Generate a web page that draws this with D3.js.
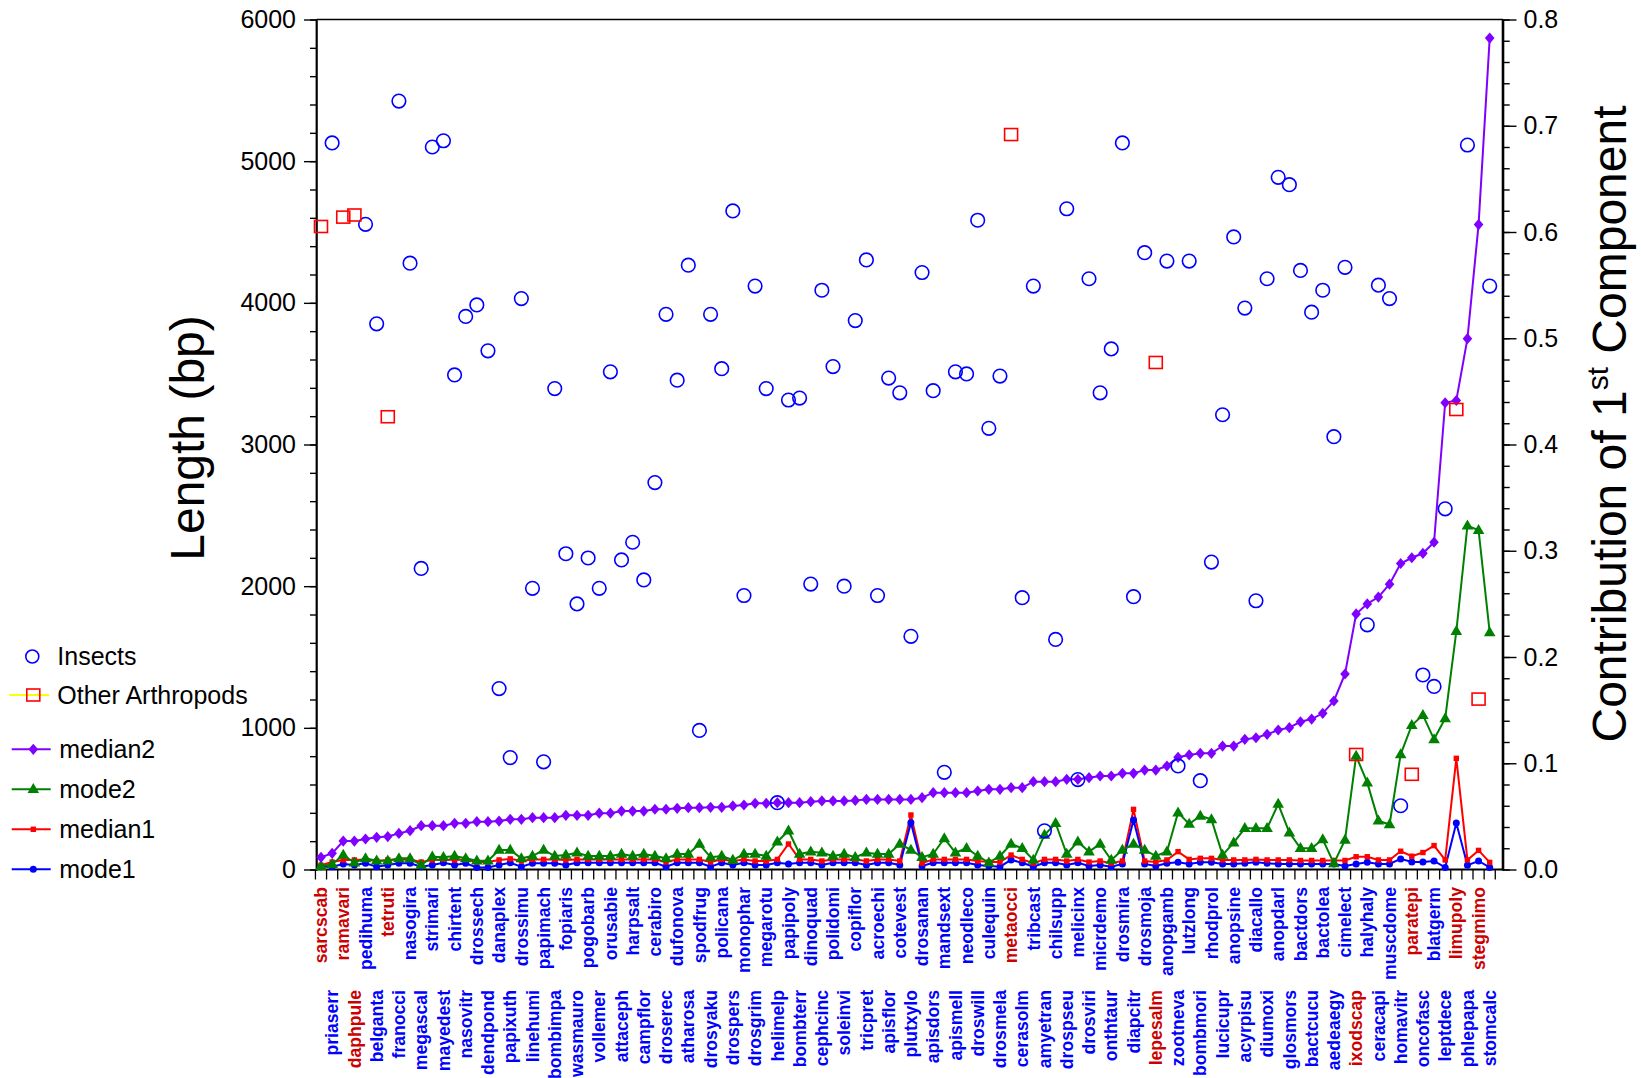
<!DOCTYPE html>
<html><head><meta charset="utf-8">
<script src="https://cdn.jsdelivr.net/npm/d3@7"></script>
<style>
body{margin:0;background:#fff}
svg{display:block}
text{font-family:"Liberation Sans",Arial,sans-serif}
</style>
</head><body>
<svg id="chart" width="1641" height="1078"></svg>
<script>
const categories = [
 "sarcscab","priaserr","ramavari","daphpule","pedihuma","belganta","tetruti","franocci","nasogira","megascal",
 "strimari","mayedest","chirtent","nasovitr","drossech","dendpond","danaplex","papixuth","drossimu","linehumi",
 "papimach","bombimpa","fopiaris","wasmauro","pogobarb","vollemer","orusabie","attaceph","harpsalt","campflor",
 "cerabiro","droserec","dufonova","atharosa","spodfrug","drosyaku","policana","drospers","monophar","drosgrim",
 "megarotu","helimelp","papipoly","bombterr","dinoquad","cephcinc","polidomi","soleinvi","copiflor","tricpret",
 "acroechi","apisflor","cotevest","plutxylo","drosanan","apisdors","mandsext","apismell","neodleco","droswill",
 "culequin","drosmela","metaocci","cerasolm","tribcast","amyetran","chilsupp","drospseu","melicinx","drosviri",
 "micrdemo","onthtaur","drosmira","diapcitr","drosmoja","lepesalm","anopgamb","zootneva","lutzlong","bombmori",
 "rhodprol","lucicupr","anopsine","acyrpisu","diacallo","diumoxi","anopdarl","glosmors","bactdors","bactcucu",
 "bactolea","aedeaegy","cimelect","ixodscap","halyhaly","ceracapi","muscdome","homavitr","paratepi","oncofasc",
 "blatgerm","leptdece","limupoly","phlepapa","stegmimo","stomcalc"];

const otherArthropods = ["sarcscab","ramavari","daphpule","tetruti","metaocci","lepesalm","ixodscap","paratepi","limupoly","stegmimo"];

const lengthBp = [
 4539,5129,4605,4620,4554,3852,3196,5424,4280,2125,
 5100,5144,3491,3904,3985,3661,1277,790,4030,1985,
 760,3395,2229,1875,2199,1985,3513,2185,2310,2044,
 2731,3919,3454,4266,982,3919,3535,4649,1934,4118,
 3395,472,3314,3328,2015,4089,3550,2000,3875,4303,
 1934,3469,3365,1646,4214,3380,686,3513,3498,4583,
 3114,3483,5188,1919,4118,273,1624,4664,635,4170,
 3365,3675,5129,1926,4354,3579,4295,731,4295,627,
 2170,3210,4465,3963,1897,4170,4886,4834,4229,3934,
 4089,3055,4251,812,1727,4125,4030,450,672,1373,
 1292,2546,3247,5114,1203,4118];

const median2 = [
 0.0115,0.0152,0.0268,0.0268,0.0287,0.0303,0.031,0.034,0.0365,0.0412,
 0.0412,0.0412,0.0435,0.0435,0.045,0.045,0.0456,0.0472,0.0472,0.0488,
 0.0488,0.0488,0.051,0.051,0.051,0.053,0.053,0.055,0.055,0.055,
 0.0567,0.0567,0.0576,0.0582,0.0582,0.0585,0.0585,0.0598,0.0607,0.0623,
 0.0623,0.0629,0.0629,0.0629,0.0638,0.0645,0.0645,0.0645,0.065,0.066,
 0.066,0.066,0.066,0.066,0.0676,0.0723,0.0723,0.0723,0.0723,0.0739,
 0.0755,0.0755,0.077,0.077,0.0827,0.0827,0.0827,0.0849,0.0849,0.0864,
 0.088,0.088,0.0905,0.0905,0.0936,0.0936,0.0974,0.1056,0.1078,0.1093,
 0.1093,0.1162,0.1162,0.1225,0.124,0.1272,0.1313,0.1335,0.139,0.1416,
 0.147,0.1586,0.184,0.2405,0.25,0.2564,0.2685,0.288,0.2934,0.2976,
 0.308,0.4393,0.4414,0.4996,0.607,0.7825];

const mode2 = [
 0.003,0.005,0.0136,0.0064,0.0105,0.0083,0.0083,0.0105,0.0105,0.0042,
 0.012,0.0115,0.0127,0.0105,0.0083,0.0083,0.0184,0.0184,0.0105,0.0127,
 0.0184,0.0127,0.0136,0.0158,0.0127,0.0127,0.0127,0.0146,0.0127,0.0146,
 0.0127,0.0105,0.0146,0.0146,0.024,0.0115,0.0127,0.0089,0.0146,0.0146,
 0.0127,0.0262,0.0365,0.0146,0.0168,0.0158,0.0127,0.0146,0.0115,0.0158,
 0.0146,0.0146,0.024,0.0184,0.0115,0.0146,0.0293,0.0158,0.02,0.0127,
 0.0064,0.0127,0.024,0.02,0.0089,0.0325,0.0435,0.0146,0.0262,0.0168,
 0.024,0.0089,0.0184,0.024,0.0184,0.0127,0.0168,0.0535,0.0428,0.0504,
 0.0472,0.0136,0.0253,0.0388,0.0388,0.0388,0.0616,0.0347,0.02,0.02,
 0.0284,0.0058,0.0278,0.1068,0.0817,0.046,0.0423,0.1084,0.1358,0.1453,
 0.1225,0.1421,0.2242,0.3236,0.3193,0.2231];

const median1 = [
 0.004,0.007,0.009,0.009,0.0095,0.008,0.009,0.0095,0.0095,0.007,
 0.009,0.0095,0.009,0.0095,0.007,0.007,0.009,0.01,0.008,0.0095,
 0.0095,0.0095,0.009,0.0095,0.0095,0.0095,0.0095,0.0095,0.0095,0.0095,
 0.0095,0.007,0.0095,0.0095,0.0095,0.007,0.0095,0.008,0.0095,0.008,
 0.008,0.0095,0.024,0.0095,0.0095,0.008,0.0095,0.0095,0.0095,0.008,
 0.0095,0.0095,0.008,0.0513,0.006,0.0095,0.0095,0.0095,0.0095,0.008,
 0.007,0.007,0.0136,0.0095,0.006,0.0095,0.0095,0.008,0.0095,0.007,
 0.008,0.006,0.008,0.0566,0.008,0.007,0.009,0.0168,0.0095,0.0105,
 0.0105,0.009,0.009,0.009,0.0095,0.009,0.009,0.009,0.0085,0.0085,
 0.0085,0.0085,0.0085,0.012,0.012,0.009,0.009,0.0172,0.0125,0.016,
 0.0225,0.009,0.1046,0.009,0.018,0.0067];

const mode1 = [
 0.0027,0.0027,0.0052,0.0042,0.0058,0.0027,0.0042,0.0058,0.0058,0.0027,
 0.0042,0.0064,0.0042,0.0058,0.002,0.002,0.0042,0.0064,0.0027,0.0058,
 0.0058,0.0058,0.0042,0.0064,0.0064,0.0064,0.0064,0.0064,0.0064,0.0064,
 0.0064,0.0027,0.0064,0.0064,0.0064,0.0027,0.0064,0.0042,0.0064,0.0042,
 0.0042,0.0064,0.0052,0.0064,0.0064,0.0042,0.0064,0.0064,0.0064,0.0042,
 0.0064,0.0064,0.0042,0.044,0.0033,0.0064,0.0064,0.0064,0.0064,0.0042,
 0.0033,0.0027,0.009,0.0064,0.0027,0.0064,0.0064,0.0042,0.0064,0.0033,
 0.0042,0.0027,0.0052,0.0466,0.0052,0.0033,0.0058,0.0068,0.0052,0.0068,
 0.0068,0.0052,0.0052,0.0058,0.0068,0.0058,0.0052,0.0052,0.0052,0.0052,
 0.0052,0.0052,0.0033,0.0052,0.0068,0.0052,0.0052,0.01,0.007,0.007,
 0.008,0.002,0.0437,0.004,0.008,0.002];

const leftMajorTicks = [0,1000,2000,3000,4000,5000,6000];
const rightMajorTicks = [0,0.1,0.2,0.3,0.4,0.5,0.6,0.7,0.8];

const legendItems = [
 {label:"Insects", kind:"circle"},
 {label:"Other Arthropods", kind:"square"},
 {label:"median2", kind:"median2"},
 {label:"mode2", kind:"mode2"},
 {label:"median1", kind:"median1"},
 {label:"mode1", kind:"mode1"}
];

// ---------- drawing ----------
const svg = d3.select("#chart");
const P = {left:316.7, right:1503, top:19.5, bottom:869.5};
const COL = {blue:"#0000ff", red:"#ff0000", purple:"#8000ff", green:"#008000", yellow:"#ffff00", labelRed:"#cc0000"};

const x = d3.scalePoint().domain(categories).range([321, 1489.7]);
const yL = d3.scaleLinear().domain([0,6000]).range([P.bottom, P.top]);
const yR = d3.scaleLinear().domain([0,0.8]).range([P.bottom, P.top]);
const step = x.step();

// Left axis minor + major
const gL = svg.append("g").attr("transform",`translate(${P.left},0)`);
gL.call(d3.axisLeft(yL).tickValues(d3.range(0,6001,200)).tickSize(6.7).tickFormat(""));
gL.append("g").call(d3.axisLeft(yL).tickValues(leftMajorTicks).tickSize(12.7).tickPadding(8).tickFormat(d3.format("d")));
gL.selectAll(".domain").remove();
gL.selectAll("line").attr("stroke","#000").attr("stroke-width",1.4);
gL.selectAll("text").attr("font-size",25).attr("fill","#000").attr("font-family",'"Liberation Sans",Arial,sans-serif');

// Right axis
const gR = svg.append("g").attr("transform",`translate(${P.right},0)`);
gR.call(d3.axisRight(yR).tickValues(d3.range(0,0.8001,0.02)).tickSize(6.7).tickFormat(""));
gR.append("g").call(d3.axisRight(yR).tickValues(rightMajorTicks).tickSize(13.5).tickPadding(7).tickFormat(d3.format(".1f")));
gR.selectAll(".domain").remove();
gR.selectAll("line").attr("stroke","#000").attr("stroke-width",1.4);
gR.selectAll("text").attr("font-size",25).attr("fill","#000").attr("font-family",'"Liberation Sans",Arial,sans-serif');

// Bottom ticks at category boundaries
const bounds = categories.map(c => x(c) - step/2).concat([x(categories[categories.length-1]) + step/2]);
svg.append("g").selectAll("line").data(bounds).join("line")
  .attr("x1",d=>d).attr("x2",d=>d).attr("y1",P.bottom).attr("y2",P.bottom+10)
  .attr("stroke","#000").attr("stroke-width",1.3);

// Frame
svg.append("line").attr("x1",P.left).attr("x2",P.right).attr("y1",P.top).attr("y2",P.top).attr("stroke","#000").attr("stroke-width",1.5);
svg.append("line").attr("x1",P.left).attr("x2",P.right+1).attr("y1",P.bottom).attr("y2",P.bottom).attr("stroke","#000").attr("stroke-width",2.2);
svg.append("line").attr("x1",P.left).attr("x2",P.left).attr("y1",P.top).attr("y2",P.bottom+1).attr("stroke","#000").attr("stroke-width",2.2);
svg.append("line").attr("x1",P.right).attr("x2",P.right).attr("y1",P.top).attr("y2",P.bottom+1).attr("stroke","#000").attr("stroke-width",2.6);

// Category labels
const isOther = c => otherArthropods.includes(c);
svg.append("g").selectAll("text").data(categories).join("text")
  .attr("transform",(c,i)=>`translate(${x(c)},${i%2===0 ? 887 : 990}) rotate(-90)`)
  .attr("text-anchor","end").attr("dy","0.35em")
  .attr("font-size",17.6).attr("font-weight","bold")
  .attr("fill",c=>isOther(c)?COL.labelRed:COL.blue)
  .text(c=>c);

// Lines
const lineR = d3.line().x((d,i)=>x(categories[i])).y(d=>yR(d));
const triPath = "M0,-6.2L5.8,3.8L-5.8,3.8Z";
const diaPath = "M0,-5.6L4.8,0L0,5.6L-4.8,0Z";

const gLines = svg.append("g");
gLines.append("path").datum(median1).attr("d",lineR).attr("fill","none").attr("stroke",COL.red).attr("stroke-width",2);
gLines.append("path").datum(mode1).attr("d",lineR).attr("fill","none").attr("stroke",COL.blue).attr("stroke-width",2);
gLines.append("g").selectAll("circle").data(mode1).join("circle")
  .attr("cx",(d,i)=>x(categories[i])).attr("cy",d=>yR(d)).attr("r",3.5).attr("fill",COL.blue);
gLines.append("g").selectAll("rect").data(median1).join("rect")
  .attr("x",(d,i)=>x(categories[i])-2.7).attr("y",d=>yR(d)-2.7).attr("width",5.4).attr("height",5.4).attr("fill",COL.red);
gLines.append("path").datum(mode2).attr("d",lineR).attr("fill","none").attr("stroke",COL.green).attr("stroke-width",2);
gLines.append("g").selectAll("path").data(mode2).join("path")
  .attr("transform",(d,i)=>`translate(${x(categories[i])},${yR(d)})`).attr("d",triPath).attr("fill",COL.green);
gLines.append("path").datum(median2).attr("d",lineR).attr("fill","none").attr("stroke",COL.purple).attr("stroke-width",2);
gLines.append("g").selectAll("path").data(median2).join("path")
  .attr("transform",(d,i)=>`translate(${x(categories[i])},${yR(d)})`).attr("d",diaPath).attr("fill",COL.purple);

// Length scatter
const pts = categories.map((c,i)=>({c, v:lengthBp[i]}));
const gPts = svg.append("g");
gPts.selectAll("circle").data(pts.filter(p=>!isOther(p.c))).join("circle")
  .attr("cx",p=>x(p.c)).attr("cy",p=>yL(p.v)).attr("r",6.8)
  .attr("fill","none").attr("stroke",COL.blue).attr("stroke-width",1.6);
gPts.selectAll("rect").data(pts.filter(p=>isOther(p.c))).join("rect")
  .attr("x",p=>x(p.c)-6.5).attr("y",p=>yL(p.v)-6).attr("width",13).attr("height",12)
  .attr("fill","none").attr("stroke",COL.red).attr("stroke-width",1.6);

// Axis titles
svg.append("text").attr("transform","translate(187,438) rotate(-90)")
  .attr("text-anchor","middle").attr("dy","0.35em").attr("font-size",48).attr("fill","#000")
  .text("Length (bp)");
const rt = svg.append("text").attr("transform","translate(1609,424) rotate(-90)")
  .attr("text-anchor","middle").attr("dy","0.35em").attr("font-size",48).attr("fill","#000");
rt.append("tspan").text("Contribution of 1");
rt.append("tspan").attr("font-size",30).attr("dy",-18).text("st");
rt.append("tspan").attr("dy",18).text(" Component");

// Legend
const legY = [656.5, 695, 749.3, 789.3, 829.3, 869.3];
const gLeg = svg.append("g");
legendItems.forEach((it,k)=>{
  const y = legY[k];
  const g = gLeg.append("g").attr("transform",`translate(0,${y})`);
  if(it.kind==="circle"){
    g.append("circle").attr("cx",32.3).attr("cy",0).attr("r",6.5).attr("fill","none").attr("stroke",COL.blue).attr("stroke-width",1.6);
  } else if(it.kind==="square"){
    g.append("line").attr("x1",9.3).attr("x2",49.3).attr("y1",0).attr("y2",0).attr("stroke",COL.yellow).attr("stroke-width",2);
    g.append("rect").attr("x",33.3-6.5).attr("y",-6).attr("width",13).attr("height",12).attr("fill","none").attr("stroke",COL.red).attr("stroke-width",1.6);
  } else {
    const col = {median2:COL.purple, mode2:COL.green, median1:COL.red, mode1:COL.blue}[it.kind];
    g.append("line").attr("x1",11.7).attr("x2",50.7).attr("y1",0).attr("y2",0).attr("stroke",col).attr("stroke-width",2);
    if(it.kind==="median2") g.append("path").attr("transform","translate(33.3,0)").attr("d",diaPath).attr("fill",col);
    if(it.kind==="mode2") g.append("path").attr("transform","translate(33.3,0)").attr("d",triPath).attr("fill",col);
    if(it.kind==="median1") g.append("rect").attr("x",30.6).attr("y",-2.7).attr("width",5.4).attr("height",5.4).attr("fill",col);
    if(it.kind==="mode1") g.append("circle").attr("cx",33.3).attr("cy",0).attr("r",3.5).attr("fill",col);
  }
  g.append("text").attr("x",k<2?57.3:59.3).attr("y",0).attr("dy","0.35em").attr("font-size",25).attr("fill","#000").text(it.label);
});
</script>
</body></html>
